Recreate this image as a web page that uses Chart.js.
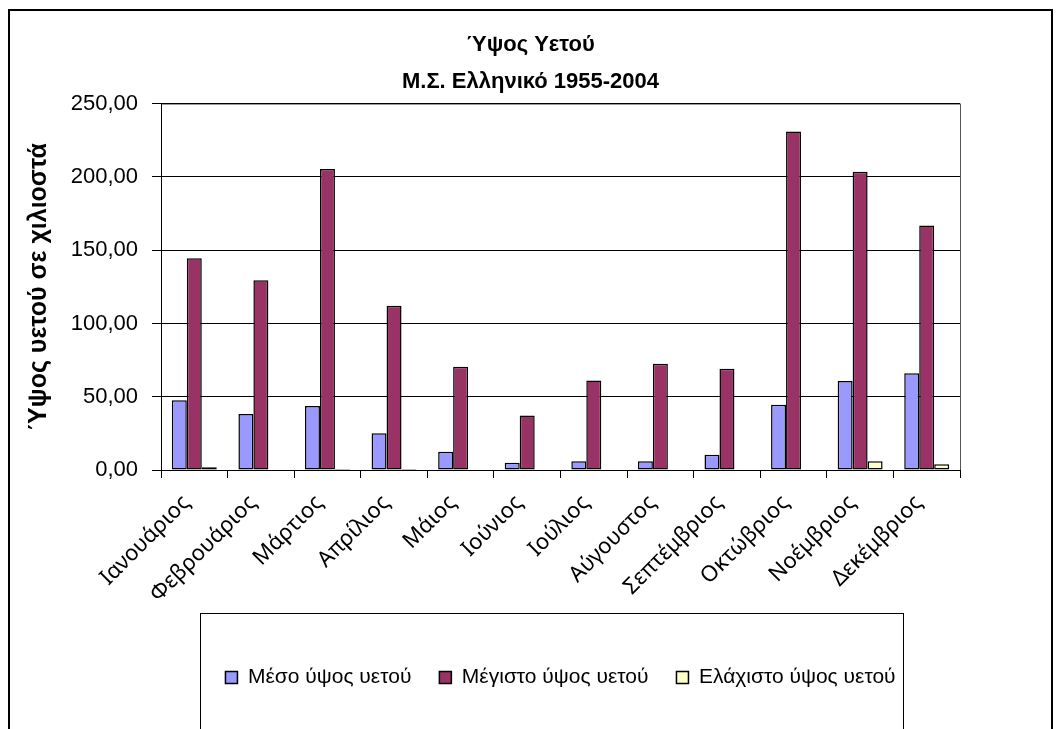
<!DOCTYPE html>
<html>
<head>
<meta charset="utf-8">
<script src="https://cdn.jsdelivr.net/npm/chart.js@4/dist/chart.umd.min.js"></script>
<style>
  html, body { margin: 0; padding: 0; background: #fff; }
  #wrap { width: 1061px; height: 729px; }
</style>
</head>
<body>
<div id="wrap"><canvas id="rainChart" width="1061" height="729"></canvas></div>
<script>
// μήνες και τιμές (mm)
const months = ['Ιανουάριος', 'Φεβρουάριος', 'Μάρτιος', 'Απρίλιος', 'Μάιος', 'Ιούνιος',
    'Ιούλιος', 'Αύγουστος', 'Σεπτέμβριος', 'Οκτώβριος', 'Νοέμβριος', 'Δεκέμβριος'];
const meanRain = [47.6, 38.2, 43.6, 25.1, 12.4, 4.9, 5.9, 6.0, 10.4, 44.5, 60.8, 66.0];
const maxRain = [144.5, 129.4, 205.3, 112.0, 70.4, 37.2, 61.0, 72.5, 69.0, 231.0, 203.5, 166.8];
const minRain = [1.8, 0, 0.6, 0.6, 0, 0, 0, 0, 0, 0, 6.0, 4.0];
const seriesNames = ['Μέσο ύψος υετού', 'Μέγιστο ύψος υετού', 'Ελάχιστο ύψος υετού'];
const yTicks = [0, 50, 100, 150, 200, 250];

// πλαίσια γύρω από το γράφημα και το υπόμνημα
const framePlugin = {
    id: 'frames',
    beforeDraw(chart) {
        const ctx = chart.ctx;
        const a = chart.chartArea;
        ctx.save();
        ctx.strokeStyle = '#000';
        ctx.lineWidth = 2;
        ctx.strokeRect(9, 10, 1043, 740);
        ctx.lineWidth = 1;
        ctx.strokeRect(200.5, 613.5, 703, 130);
        ctx.strokeStyle = '#555';
        ctx.strokeRect(a.left + 0.5, a.top + 0.5, a.right - a.left, a.bottom - a.top);
        ctx.restore();
    }
};

const ctx = document.getElementById('rainChart').getContext('2d');
new Chart(ctx, {
    type: 'bar',
    data: {
        labels: months,
        datasets: [{
            label: seriesNames[0],
            data: meanRain,
            backgroundColor: '#9999FF',
            borderColor: '#000',
            borderWidth: 1.5,
            borderSkipped: false
        }, {
            label: seriesNames[1],
            data: maxRain,
            backgroundColor: '#993366',
            borderColor: '#000',
            borderWidth: 1.5,
            borderSkipped: false
        }, {
            label: seriesNames[2],
            data: minRain,
            backgroundColor: '#FFFFCC',
            borderColor: '#000',
            borderWidth: 1.5,
            borderSkipped: false
        }]
    },
    options: {
        responsive: false,
        animation: false,
        layout: { padding: { left: 10, right: 10, top: 10, bottom: 31 } },
        datasets: { bar: { categoryPercentage: 0.675, barPercentage: 1.0 } },
        plugins: {
            title: {
                display: true,
                text: ['Ύψος Υετού', 'Μ.Σ. Ελληνικό 1955-2004'],
                color: '#000',
                font: { family: 'Liberation Sans', size: 22, weight: 'bold', lineHeight: 1.65 },
                padding: { top: 17, bottom: 4 }
            },
            legend: {
                position: 'bottom',
                fullSize: false,
                labels: {
                    color: '#000',
                    font: { family: 'Liberation Sans', size: 21 },
                    boxWidth: 12,
                    boxHeight: 12,
                    padding: 28
                }
            },
            tooltip: { enabled: false }
        },
        scales: {
            x: {
                grid: { display: true, drawOnChartArea: false, color: '#000', tickLength: 8 },
                border: { color: '#000' },
                ticks: {
                    color: '#000',
                    autoSkip: false,
                    maxRotation: 45,
                    minRotation: 45,
                    padding: 12,
                    labelOffset: -8,
                    font: { family: 'Noto Sans', size: 22 }
                },
                afterFit(scale) { scale.height = 169; }
            },
            y: {
                min: 0,
                max: 250,
                afterBuildTicks(scale) { scale.ticks = yTicks.map(v => ({ value: v })); },
                grid: { color: '#000', tickLength: 9 },
                border: { color: '#000' },
                ticks: {
                    color: '#000',
                    padding: 14,
                    font: { family: 'Liberation Sans', size: 22 },
                    callback: v => v.toFixed(2).replace('.', ',')
                },
                title: {
                    display: true,
                    text: 'Ύψος υετού σε χιλιοστά',
                    color: '#000',
                    font: { family: 'Liberation Sans', size: 25, weight: 'bold' },
                    padding: { top: 14, bottom: 0 }
                },
                afterFit(scale) { scale.width = 151; }
            },
            yR: {
                position: 'right',
                grid: { display: false },
                border: { display: false },
                ticks: { display: false },
                afterFit(scale) { scale.width = 91; }
            }
        }
    },
    plugins: [framePlugin]
});
</script>
</body>
</html>
